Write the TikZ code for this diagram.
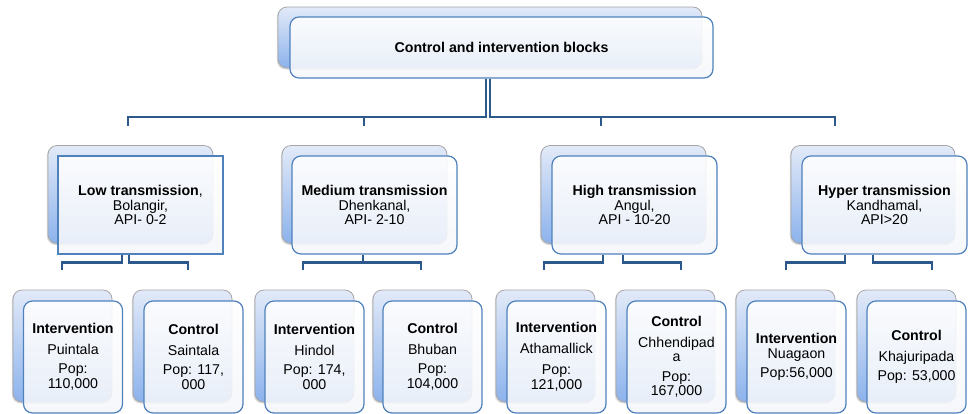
\documentclass[tikz,border=0pt]{standalone}
\usepackage{fontspec}
\setmainfont{Liberation Sans}
\usetikzlibrary{shadows}
\definecolor{linkblue}{RGB}{44,88,140}
\definecolor{frameblue}{RGB}{79,129,189}
\definecolor{backtop}{RGB}{226,234,248}
\definecolor{backbot}{RGB}{140,178,236}
\definecolor{frontbot}{RGB}{244,246,250}

\tikzset{
  backbox/.style={draw=black!35, line width=0.8pt, rounded corners=9pt,
    top color=backtop, bottom color=backbot,
    drop shadow={shadow xshift=-1.2pt, shadow yshift=-1.5pt, opacity=0.3}},
  frontbox/.style={draw=frameblue, line width=1.2pt, rounded corners=9pt,
    top color=white, bottom color=frontbot, fill opacity=0.88, text opacity=1,
    align=center, font=\fontsize{14.2}{14.5}\selectfont},
  link/.style={draw=linkblue, line width=2.2pt},
}

\begin{document}
\begin{tikzpicture}[x=1pt,y=-1pt]
\useasboundingbox (0,0) rectangle (969,413);
% top block
\node[backbox, minimum width=424pt, minimum height=61pt] (topb) at (490,37.5) {};
\node[frontbox, minimum width=423pt, minimum height=61pt] (topf) at (501.5,47.5) {\textbf{Control and intervention blocks}};

% transmission strata
\node[backbox, minimum width=165pt, minimum height=98pt] (lowb) at (130.5,194.5) {};
\node[backbox, minimum width=165pt, minimum height=98pt] (medb) at (364.5,194.5) {};
\node[backbox, minimum width=165pt, minimum height=98pt] (highb) at (623.5,194.5) {};
\node[backbox, minimum width=164pt, minimum height=98pt] (hypb) at (873,194.5) {};
\node[frontbox, rounded corners=0pt, minimum width=165pt, minimum height=98pt] (lowf) at (140.5,205) {\textbf{Low transmission},\\ Bolangir,\\ API- 0-2};
\node[frontbox, minimum width=165pt, minimum height=98pt] (medf) at (374.5,205) {\textbf{Medium transmission}\\ Dhenkanal,\\ API- 2-10};
\node[frontbox, minimum width=165pt, minimum height=98pt] (highf) at (634.5,205) {\textbf{High transmission}\\ Angul,\\ API - 10-20};
\node[frontbox, minimum width=165pt, minimum height=98pt] (hypf) at (884.5,205) {\textbf{Hyper transmission}\\ Kandhamal,\\ API>20};

% blocks
\foreach \bx/\bn in {13/b1,133/b2,255/b3,373/b4,496/b5,616/b6,736/b7,857/b8}
  \node[backbox, minimum width=99pt, minimum height=112pt] (\bn) at (\bx+49.5,346) {};
\node[frontbox, minimum width=99pt, minimum height=112pt] (f1) at (73,357) {\textbf{Intervention}\\[6pt] Puintala\\[5pt] Pop:\\ 110,000};
\node[frontbox, minimum width=99pt, minimum height=112pt] (f2) at (193.5,357) {\textbf{Control}\\[6pt] Saintala\\[5pt] Pop: 117,\\ 000};
\node[frontbox, minimum width=99pt, minimum height=112pt] (f3) at (314.5,357) {\textbf{Intervention}\\[6pt] Hindol\\[5pt] Pop: 174,\\ 000};
\node[frontbox, minimum width=99pt, minimum height=112pt] (f4) at (432.5,357) {\textbf{Control}\\[6pt] Bhuban\\[5pt] Pop:\\ 104,000};
\node[frontbox, minimum width=99pt, minimum height=112pt] (f5) at (556.5,357) {\textbf{Intervention}\\[6pt] Athamallick\\[7pt] Pop:\\ 121,000};
\node[frontbox, minimum width=99pt, minimum height=112pt] (f6) at (676.5,357) {\textbf{Control}\\[6pt] Chhendipad\\ a\\[5pt] Pop:\\ 167,000};
\node[frontbox, minimum width=99pt, minimum height=112pt] (f7) at (796.5,357) {\textbf{Intervention}\\ Nuagaon\\[5pt] Pop:56,000};
\node[frontbox, minimum width=99pt, minimum height=112pt] (f8) at (916.5,357) {\textbf{Control}\\[6pt] Khajuripada\\[5pt] Pop: 53,000};

% connectors
\coordinate (bar) at (0,117);
\coordinate (t1) at (128,126);
\coordinate (t2) at (364,126);
\coordinate (t3) at (601,126);
\coordinate (t4) at (835,126);
\draw[link] ([xshift=-15.5pt]topf.south) |- (bar -| t1) -- (t1);
\draw[link] ([xshift=-15.5pt]topf.south) |- (bar -| t2) -- (t2);
\draw[link] ([xshift=-11.5pt]topf.south) |- (bar -| t3) -- (t3);
\draw[link] ([xshift=-11.5pt]topf.south) |- (bar -| t4) -- (t4);

\coordinate (bar2) at (0,262.5);
\foreach \dx/\dn in {62/d1,188/d2,303/d3,421/d4,544/d5,681/d6,786/d7,932/d8}
  \coordinate (\dn) at (\dx,270);
\draw[link] ([xshift=-18.5pt]lowf.south) |- (bar2 -| d1) -- (d1);
\draw[link] ([xshift=-11.5pt]lowf.south) |- (bar2 -| d2) -- (d2);
\draw[link] ([xshift=-11.5pt]medf.south) |- (bar2 -| d3) -- (d3);
\draw[link] ([xshift=-11.5pt]medf.south) |- (bar2 -| d4) -- (d4);
\draw[link] ([xshift=-31.5pt]highf.south) |- (bar2 -| d5) -- (d5);
\draw[link] ([xshift=-11.5pt]highf.south) |- (bar2 -| d6) -- (d6);
\draw[link] ([xshift=-39.5pt]hypf.south) |- (bar2 -| d7) -- (d7);
\draw[link] ([xshift=-11.5pt]hypf.south) |- (bar2 -| d8) -- (d8);
\end{tikzpicture}
\end{document}
